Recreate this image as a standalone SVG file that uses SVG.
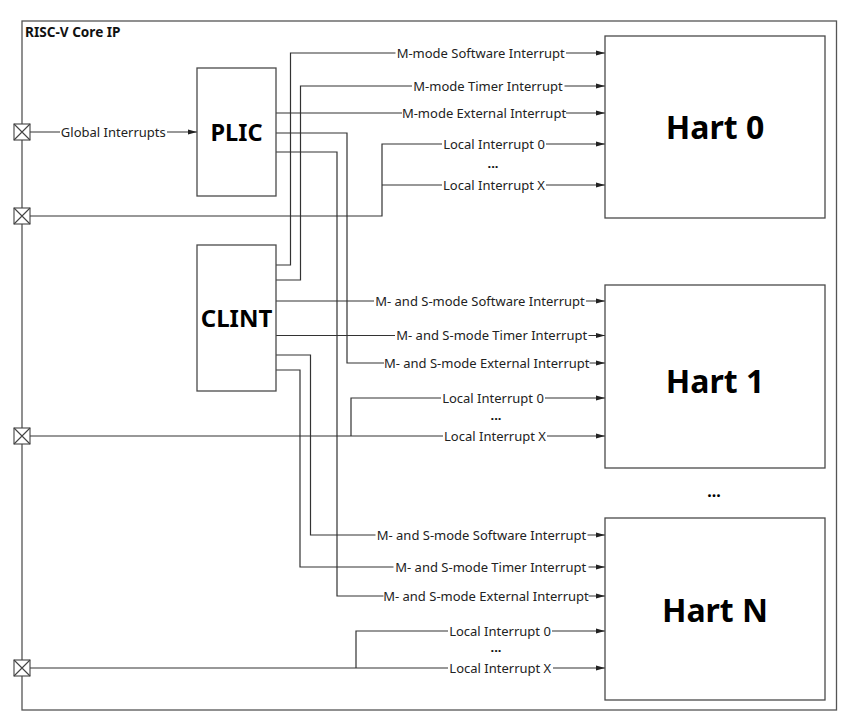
<svg xmlns="http://www.w3.org/2000/svg" width="857" height="725" viewBox="0 0 857 725">
<style>
.box{fill:#fff;stroke:#4a4a4a;stroke-width:1.3}
.frame{fill:none;stroke:#555;stroke-width:1.3}
.arr{fill:none;stroke:#333;stroke-width:1.2;marker-end:url(#ah)}
.lbl{font-family:"Noto Sans","Open Sans",sans-serif;font-size:13px;fill:#222;text-anchor:middle}
.dots{font-family:"Noto Sans","Open Sans",sans-serif;font-size:13px;font-weight:bold;fill:#111;text-anchor:middle}
.bg{fill:#fff}
.big{font-family:"Noto Sans","Open Sans",sans-serif;font-weight:bold;fill:#000;text-anchor:middle}
.port{fill:#fff;stroke:#444;stroke-width:1.1}
</style>
<defs>
<marker id="ah" markerWidth="9" markerHeight="6" refX="9" refY="3" orient="auto" markerUnits="userSpaceOnUse">
<path d="M0,0.6 L9,3 L0,5.4 Z" fill="#222"/>
</marker>
</defs>
<rect id="background" x="0" y="0" width="857" height="725" fill="#fff"/>
<g id="core">
<rect class="frame" x="22" y="21" width="814.5" height="689"/>
<text x="25" y="37" font-family="'Noto Sans','Open Sans',sans-serif" font-weight="bold" font-size="13.6" fill="#111">RISC-V Core IP</text>
</g>
<g id="connectors">
<path class="arr" d="M30,132 H197"/>
<path class="arr" d="M276,113 H605"/>
<path class="arr" d="M276,133 H347 V363 H605"/>
<path class="arr" d="M276,152 H337 V596 H605"/>
<path class="arr" d="M276,265 H290.5 V53 H605"/>
<path class="arr" d="M276,280 H300.5 V86 H605"/>
<path class="arr" d="M276,301 H605"/>
<path class="arr" d="M276,335.5 H605"/>
<path class="arr" d="M276,355 H310.5 V535 H605"/>
<path class="arr" d="M276,370 H300 V567 H605"/>
<path class="arr" d="M30,216 H382 V144 H605"/>
<path class="arr" d="M382,185 H605"/>
<path class="arr" d="M30,436 H605"/>
<path class="arr" d="M351,436 V398 H605"/>
<path class="arr" d="M30,668 H605"/>
<path class="arr" d="M356,668 V631 H605"/>
<g id="labels">
<rect class="bg" x="60" y="124" width="107" height="16"/>
<text class="lbl" x="113.3" y="136.7">Global Interrupts</text>
<rect class="bg" x="395.5" y="45" width="170.5" height="16"/>
<text class="lbl" x="480.7" y="57.7">M-mode Software Interrupt</text>
<rect class="bg" x="412" y="78" width="152.5" height="16"/>
<text class="lbl" x="488" y="90.7">M-mode Timer Interrupt</text>
<rect class="bg" x="402" y="105" width="164" height="16"/>
<text class="lbl" x="484" y="117.7">M-mode External Interrupt</text>
<rect class="bg" x="442" y="136" width="104" height="16"/>
<text class="lbl" x="494" y="148.7">Local Interrupt 0</text>
<text class="dots" x="493" y="168">...</text>
<rect class="bg" x="442" y="177" width="104" height="16"/>
<text class="lbl" x="494" y="189.7">Local Interrupt X</text>
<rect class="bg" x="374" y="293" width="212" height="16"/>
<text class="lbl" x="480" y="305.7">M- and S-mode Software Interrupt</text>
<rect class="bg" x="395" y="327" width="193.5" height="16"/>
<text class="lbl" x="491.7" y="340.2">M- and S-mode Timer Interrupt</text>
<rect class="bg" x="384" y="355" width="205.5" height="16"/>
<text class="lbl" x="486.7" y="367.7">M- and S-mode External Interrupt</text>
<rect class="bg" x="441" y="390" width="104" height="16"/>
<text class="lbl" x="493" y="402.7">Local Interrupt 0</text>
<text class="dots" x="496" y="420">...</text>
<rect class="bg" x="443" y="428" width="104" height="16"/>
<text class="lbl" x="495" y="440.7">Local Interrupt X</text>
<rect class="bg" x="375.5" y="527" width="212" height="16"/>
<text class="lbl" x="481.5" y="539.7">M- and S-mode Software Interrupt</text>
<rect class="bg" x="393.5" y="559" width="195" height="16"/>
<text class="lbl" x="490.7" y="571.7">M- and S-mode Timer Interrupt</text>
<rect class="bg" x="383.5" y="588" width="205" height="16"/>
<text class="lbl" x="486" y="600.7">M- and S-mode External Interrupt</text>
<rect class="bg" x="448" y="623" width="104" height="16"/>
<text class="lbl" x="500" y="635.7">Local Interrupt 0</text>
<text class="dots" x="496" y="652">...</text>
<rect class="bg" x="448" y="660" width="105" height="16"/>
<text class="lbl" x="500.3" y="672.7">Local Interrupt X</text>
</g>
</g>
<g id="port1"><rect class="port" x="14" y="124" width="16" height="16"/><path class="port" d="M14,124 L30,140 M30,124 L14,140"/></g>
<g id="port2"><rect class="port" x="14" y="208" width="16" height="16"/><path class="port" d="M14,208 L30,224 M30,208 L14,224"/></g>
<g id="port3"><rect class="port" x="14" y="428" width="16" height="16"/><path class="port" d="M14,428 L30,444 M30,428 L14,444"/></g>
<g id="port4"><rect class="port" x="14" y="660" width="16" height="16"/><path class="port" d="M14,660 L30,676 M30,660 L14,676"/></g>
<g id="plic">
<rect class="box" x="197" y="68" width="79" height="128"/>
<text class="big" x="236.5" y="140.5" font-size="23.5">PLIC</text>
</g>
<g id="clint">
<rect class="box" x="197" y="245" width="79" height="146"/>
<text class="big" x="236.5" y="326.5" font-size="24">CLINT</text>
</g>
<g id="hart0">
<rect class="box" x="605" y="36" width="220" height="182"/>
<text class="big" x="715" y="139" font-size="32">Hart 0</text>
</g>
<g id="hart1">
<rect class="box" x="605" y="285" width="220" height="183"/>
<text class="big" x="715" y="393" font-size="32">Hart 1</text>
</g>
<text class="big" x="714" y="497" font-size="16">...</text>
<g id="hartN">
<rect class="box" x="605" y="518" width="220" height="182"/>
<text class="big" x="715" y="621.5" font-size="32">Hart N</text>
</g>
</svg>
